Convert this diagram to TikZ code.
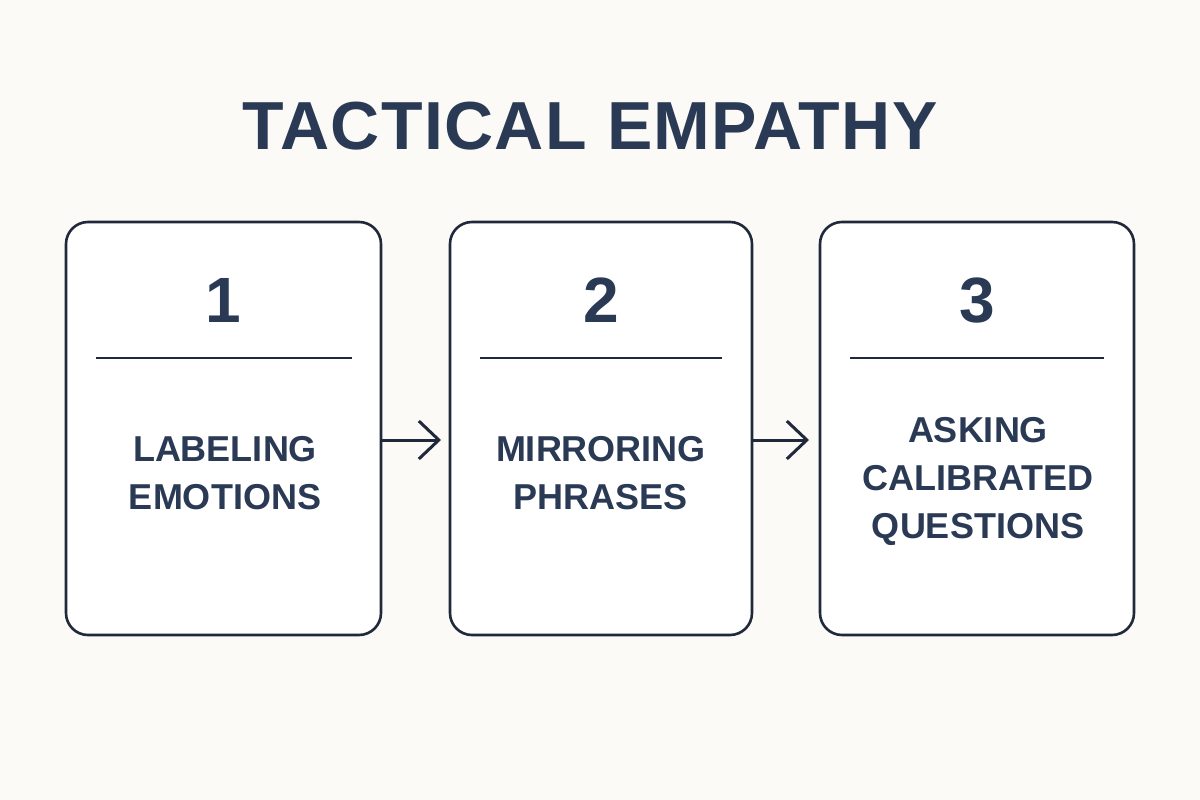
\documentclass[tikz,border=0pt]{standalone}
\usepackage{fontspec}
\setmainfont{Liberation Sans}
\usetikzlibrary{arrows.meta}
\definecolor{bg}{HTML}{FBFAF6}
\definecolor{ink}{HTML}{1F2939}
\definecolor{txt}{HTML}{2A3A55}
\tikzset{
  card/.style={draw=ink, line width=2.6pt, rounded corners=22pt, fill=white},
  divider/.style={draw=ink, line width=1.6pt},
  num/.style={text=txt, font=\fontsize{64}{64}\selectfont\bfseries, anchor=base},
  lbl/.style={text=txt, font=\fontsize{36}{48}\selectfont\bfseries, align=center},
  flow/.style={draw=ink, line width=3pt, -{Straight Barb[length=20pt, width=38pt, line width=3pt]}},
}
\begin{document}
\begin{tikzpicture}[x=1pt,y=-1pt]
\fill[bg] (0,0) rectangle (1200,800);
\useasboundingbox (0,0) rectangle (1200,800);
\node[text=txt, font=\fontsize{68}{68}\selectfont\bfseries\addfontfeature{LetterSpace=2}, anchor=base] (title) at (590,149) {TACTICAL EMPATHY};

\draw[card] (66,222) rectangle (381,635);
\draw[card] (450,222) rectangle (752,635);
\draw[card] (820,222) rectangle (1134,635);
\coordinate (b1r) at (381,440);
\coordinate (b2l) at (450,440);
\coordinate (b2r) at (752,440);
\coordinate (b3l) at (820,440);

\node[num] (n1) at (223,322) {1};
\node[num] (n2) at (601,322) {2};
\node[num] (n3) at (977,322) {3};

\draw[divider] (96,358) coordinate (d1a) -- (352,358) coordinate (d1b);
\draw[divider] (480,358) coordinate (d2a) -- (722,358) coordinate (d2b);
\draw[divider] (850,358) coordinate (d3a) -- (1104,358) coordinate (d3b);

\node[lbl] (l1) at (225,473) {LABELING\\EMOTIONS};
\node[lbl] (l2) at (601,473) {MIRRORING\\PHRASES};
\node[lbl] (l3) at (978,481) {ASKING\\CALIBRATED\\QUESTIONS};

\draw[flow] (b1r) -- ([xshift=-9pt]b2l);
\draw[flow] (b2r) -- ([xshift=-11pt]b3l);
\end{tikzpicture}
\end{document}
